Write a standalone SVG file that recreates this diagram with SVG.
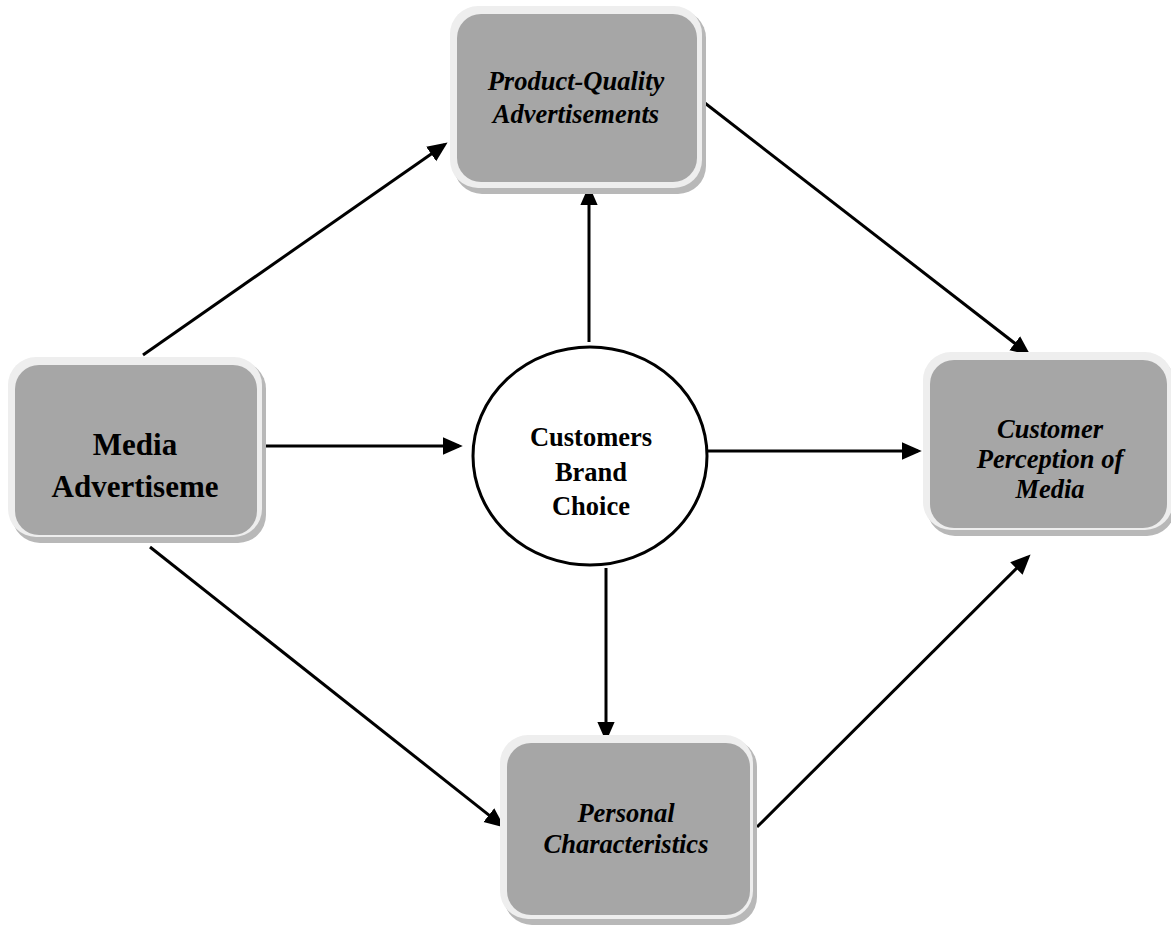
<svg xmlns="http://www.w3.org/2000/svg" width="1171" height="925" viewBox="0 0 1171 925">
<defs>
<style>
.sh{fill:#b8b8b8}
.outer{fill:#eeeeee}
.inner{fill:#a6a6a6}
.t{font-family:"Liberation Serif","Times New Roman",serif;font-weight:bold;font-size:26px;fill:#000;text-anchor:middle}
.i{font-style:italic;font-size:26.5px}
.big{font-size:31px}
.mid{font-size:26.5px}
.c{stroke:#000;stroke-width:3;fill:none;marker-end:url(#ah)}
</style>
<marker id="ah" markerUnits="userSpaceOnUse" markerWidth="20" markerHeight="20" viewBox="0 0 16 14" refX="13" refY="7" orient="auto">
<path d="M0,0 L16,7 L0,14 Z" fill="#000"/>
</marker>
</defs>
<rect width="1171" height="925" fill="#fff"/>
<g id="connectors">
<line class="c" x1="143" y1="355" x2="444.5" y2="144.7"/>
<line class="c" x1="701" y1="100" x2="1027.6" y2="353.2"/>
<line class="c" x1="589" y1="342" x2="589" y2="189"/>
<line class="c" x1="263" y1="446" x2="459" y2="446"/>
<line class="c" x1="708" y1="451" x2="918" y2="451"/>
<line class="c" x1="606" y1="568" x2="606" y2="738"/>
<line class="c" x1="150" y1="547" x2="501.6" y2="825.1"/>
<line class="c" x1="757" y1="827" x2="1027.9" y2="557.1"/>
</g>
<g id="product">
<rect class="sh" x="454" y="10" width="252" height="184" rx="28"/>
<rect class="outer" x="450" y="6" width="252" height="182" rx="28"/>
<rect class="inner" x="457" y="14" width="240" height="168" rx="24"/>
<text class="t i" x="576" y="90">Product-Quality</text>
<text class="t i" x="576" y="123">Advertisements</text>
</g>
<g id="media">
<rect class="sh" x="12" y="361" width="254" height="182" rx="28"/>
<rect class="outer" x="8" y="357" width="254" height="180" rx="28"/>
<rect class="inner" x="15" y="365" width="242" height="170" rx="24"/>
<text class="t big" x="135" y="455">Media</text>
<text class="t big" x="135" y="497">Advertiseme</text>
</g>
<g id="perception">
<rect class="sh" x="927" y="356" width="248" height="180" rx="28"/>
<rect class="outer" x="923" y="352" width="250" height="178" rx="28"/>
<rect class="inner" x="930" y="360" width="237" height="168" rx="24"/>
<text class="t i" x="1050" y="438">Customer</text>
<text class="t i" x="1050" y="468">Perception of</text>
<text class="t i" x="1050" y="498">Media</text>
</g>
<g id="personal">
<rect class="sh" x="504" y="739" width="253" height="186" rx="28"/>
<rect class="outer" x="500" y="735" width="253" height="184" rx="28"/>
<rect class="inner" x="507" y="743" width="243" height="172" rx="24"/>
<text class="t i" x="626" y="822">Personal</text>
<text class="t i" x="626" y="853">Characteristics</text>
</g>
<g id="brand">
<ellipse cx="590" cy="456" rx="117" ry="109" fill="#fff" stroke="#000" stroke-width="3"/>
<text class="t mid" x="591" y="446">Customers</text>
<text class="t mid" x="591" y="481">Brand</text>
<text class="t mid" x="591" y="515">Choice</text>
</g>
</svg>
